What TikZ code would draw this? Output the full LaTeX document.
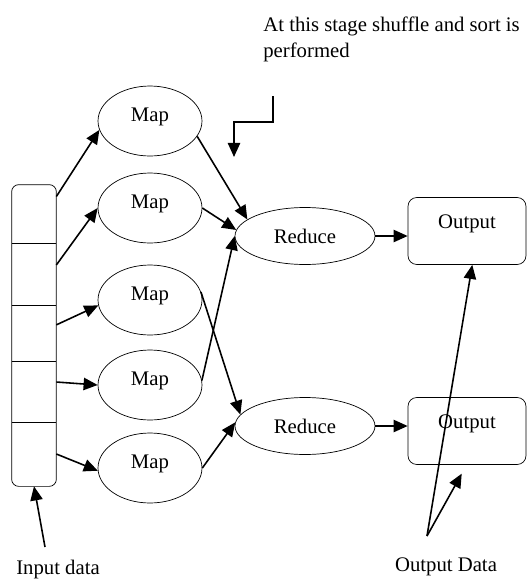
\documentclass[tikz,border=0pt]{standalone}
\usepackage{fontspec}
\setmainfont{Liberation Serif}
\usetikzlibrary{shapes.geometric,arrows.meta}

\begin{document}
\begin{tikzpicture}[x=0.02cm,y=-0.02cm,
  every node/.style={font=\fontsize{11.8}{14.6}\selectfont},
  flow/.style={line width=0.9pt,-{Triangle[length=8pt,width=7pt]}},
  mapnode/.style={draw,ellipse,thin,minimum width=2.08cm,minimum height=1.4cm,inner sep=0pt,text height=8pt,text depth=8pt},
  rednode/.style={draw,ellipse,thin,minimum width=2.8cm,minimum height=1.14cm,inner sep=0pt},
  outnode/.style={draw,rectangle,rounded corners=5pt,thin,minimum width=2.36cm,minimum height=1.34cm,inner sep=0pt,text height=8pt,text depth=11pt},
  cell/.style={rectangle,minimum width=0.88cm,inner sep=0pt}]
  \useasboundingbox (0,0) rectangle (529,579);
  % input array
  \node[cell,minimum height=1.16cm] (c1) at (34,214) {};
  \node[cell,minimum height=1.24cm] (c2) at (34,274) {};
  \node[cell,minimum height=1.12cm] (c3) at (34,333) {};
  \node[cell,minimum height=1.22cm] (c4) at (34,391.5) {};
  \node[cell,minimum height=1.28cm] (c5) at (34,454) {};
  \draw [thin,rounded corners=4pt] (c1.north west) rectangle (c5.south east);
  \foreach \i in {1,...,4}
    \draw [thin] (c\i.south west) -- (c\i.south east);
  % map, reduce, output
  \foreach \n/\y in {1/121,2/208,3/300,4/385,5/468}
    \node[mapnode] (m\n) at (150,\y) {Map};
  \node[rednode] (r1) at (305,236) {Reduce};
  \node[rednode] (r2) at (305,426) {Reduce};
  \node[outnode] (o1) at (467,231) {Output};
  \node[outnode] (o2) at (467,431) {Output};
  \draw [flow] (c1.38) -- (m1.190);
  \draw [flow] (c2.22) -- (m2.west);
  \draw [flow] (c3.20) -- (m3.186);
  \draw [flow] (c4.23) -- (m4.west);
  \draw [flow] (c5.east) -- (m5.183);
  \draw [flow] (m1.-18) -- (r1.164);
  \draw [flow] (m2.east) -- (r1.175);
  \draw [flow] (m3.9) -- (r2.170);
  \draw [flow] (m4.5) -- (r1.180);
  \draw [flow] (m5.east) -- (r2.177);
  \draw [flow] (r1.east) -- (r1.east -| o1.west);
  \draw [flow] (r2.east) -- (r2.east -| o2.west);
  % shuffle note
  \node[align=left,anchor=north west,inner sep=0pt] (note) at (263,17) {At this stage shuffle and sort is\\performed};
  \coordinate (k) at (273,96);
  \draw [flow] (k) -- ++(0,26) -| (234,157);
  % labels
  \node (inp) at (58,570) {Input data};
  \coordinate (ia) at (45,547);
  \draw [flow] (ia) -- (c5.south);
  \node (outd) at (446,567) {Output Data};
  \coordinate (oa) at (427,536);
  \draw [flow] (oa) -- ([xshift=3pt]o1.south);
  \draw [flow] (oa) -- ([xshift=-3pt,yshift=-5pt]o2.south);
\end{tikzpicture}
\end{document}
